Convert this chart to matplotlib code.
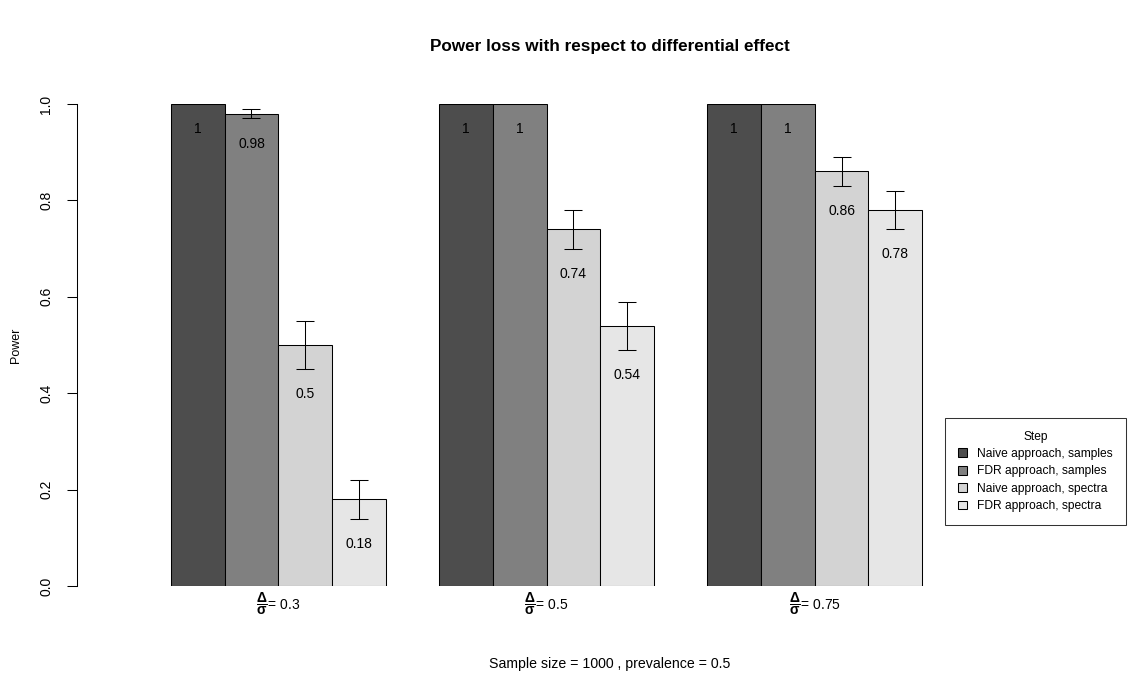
import matplotlib
matplotlib.use("Agg")
import matplotlib.pyplot as plt
from matplotlib.patches import Patch

plt.rcParams['font.family'] = ['Liberation Sans', 'DejaVu Sans']
plt.rcParams['mathtext.fontset'] = 'custom'
plt.rcParams['mathtext.rm'] = 'Liberation Sans'
plt.rcParams['mathtext.it'] = 'Liberation Sans:italic'
plt.rcParams['mathtext.bf'] = 'Liberation Sans:bold'

groups = ["0.3", "0.5", "0.75"]
steps = ["Naive approach, samples", "FDR approach, samples",
         "Naive approach, spectra", "FDR approach, spectra"]
power = [
    [1.00, 0.98, 0.50, 0.18],
    [1.00, 1.00, 0.74, 0.54],
    [1.00, 1.00, 0.86, 0.78],
]
err = [
    [0.00, 0.01, 0.05, 0.04],
    [0.00, 0.00, 0.04, 0.05],
    [0.00, 0.00, 0.03, 0.04],
]
labels = [
    ["1", "0.98", "0.5", "0.18"],
    ["1", "1", "0.74", "0.54"],
    ["1", "1", "0.86", "0.78"],
]
colors = ["#4D4D4D", "#808080", "#D3D3D3", "#E6E6E6"]
yticks = [0.0, 0.2, 0.4, 0.6, 0.8, 1.0]

W, H = 1131, 673
fig = plt.figure(figsize=(W / 100, H / 100), dpi=100)

# pixel layout
x_left_px, x_right_px = 77, 1121
y0_px, y1_px = 586, 104
unit = (922 - 171) / 14.0
xmin = 1 - (171 - x_left_px) / unit
xmax = xmin + (x_right_px - x_left_px) / unit

ax = fig.add_axes([x_left_px / W, (H - y0_px) / H,
                   (x_right_px - x_left_px) / W, (y0_px - y1_px) / H])
ax.set_xlim(xmin, xmax)
ax.set_ylim(0, 1)
for s in ["top", "right", "bottom"]:
    ax.spines[s].set_visible(False)
ax.spines["left"].set_bounds(0, 1)
ax.spines["left"].set_linewidth(0.75)
ax.set_xticks([])
ax.set_yticks(yticks)
fs = 10.0
ax.set_yticklabels([f"{t:.1f}" for t in yticks], rotation=90, va="center",
                   fontsize=fs)
ax.tick_params(axis="y", length=7, width=0.75, pad=10)
fig.text(16 / W, 1 - 345 / H, "Power", rotation=90, ha="center", va="center",
         fontsize=9.0)

for g in range(len(groups)):
    start = 1 + g * 5
    for i in range(4):
        xc = start + i + 0.5
        v = power[g][i]
        e = err[g][i]
        ax.bar(xc, v, width=1.0, color=colors[i], edgecolor="black",
               linewidth=0.75, zorder=2)
        if e > 0:
            ax.errorbar(xc, v, yerr=e, fmt="none", ecolor="black",
                        elinewidth=0.75, capsize=6.5, capthick=0.75, zorder=3)
        ax.text(xc, v - e - 0.052, labels[g][i], ha="center", va="center",
                fontsize=fs, zorder=4)
    gc = start + 2
    ax.text(gc, -0.037,
            r"$\mathbf{\dfrac{\Delta}{\sigma}}$" + "= " + groups[g],
            ha="center", va="center", fontsize=fs)

fig.text(610 / W, 1 - 47 / H, "Power loss with respect to differential effect",
         ha="center", va="center", fontsize=12.3, fontweight="bold")
fig.text(610 / W, 1 - 664 / H, "Sample size = 1000 , prevalence = 0.5",
         ha="center", va="center", fontsize=10.2)

handles = [Patch(facecolor=c, edgecolor="black", linewidth=0.75) for c in colors]
leg = fig.legend(handles, steps, title="Step", loc="upper left",
                 bbox_to_anchor=(945 / W, 1 - 418 / H), borderaxespad=0,
                 fontsize=8.64, title_fontsize=8.64, frameon=True,
                 fancybox=False, edgecolor="black", handlelength=0.75,
                 handleheight=0.75, handletextpad=0.9, labelspacing=0.45,
                 borderpad=1.05)
leg.get_frame().set_linewidth(0.75)

fig.savefig("out.png", dpi=100)
